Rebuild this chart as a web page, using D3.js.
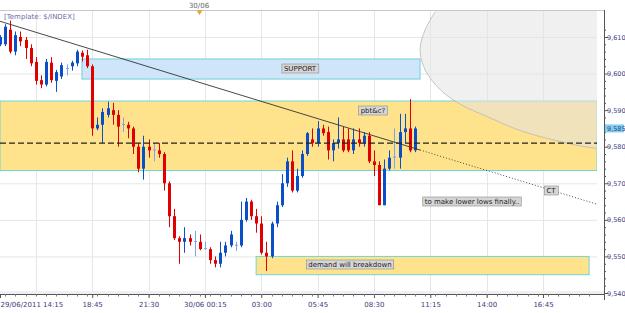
<!DOCTYPE html>
<html>
<head>
<meta charset="utf-8">
<script src="https://cdn.jsdelivr.net/npm/d3@7/dist/d3.min.js"></script>
<style>
  body { margin: 0; background: #fff; }
  text { font-family: "DejaVu Sans", sans-serif; }
</style>
</head>
<body>
<div id="chart-area"></div>
<script>
// 15 minute bars, $INDEX, from 29/06/2011 14:15
var firstBar = new Date(2011, 5, 29, 14, 15);
var open  = [9608,9608,9612,9606,9610,9609.2,9607,9603.2,9598.2,9597,9603,9598,9599.2,9601.3,9602,9602.8,9605.7,9605,9602,9585,
             9586,9588.7,9590,9588.7,9586,9586,9585,9580,9574,9580,9579,9579,9578,9570,9561,9555,9554,9555,9554,9554,
             9552,9552,9549,9548,9551,9553,9553,9553,9560,9565,9561,9559,9551,9550,9559,9564,9570,9576,9568,9572,
             9578,9582,9581,9585,9584,9579,9581,9582,9582,9579,9582,9581,9583,9576,9575,9564,9574,9577,9577,9584,
             9585,9579];
var high  = [9610.5,9613.5,9614.5,9611.5,9611.5,9610,9608,9604.5,9599.5,9604,9604.5,9601,9603,9602.5,9603.5,9606.5,9606.3,9606.5,9602.5,9588,
             9590.5,9592.3,9592,9590,9588,9586.8,9585.5,9581,9583,9582,9581,9581,9578.5,9570.5,9563,9555.5,9558,9556,9557,9556,
             9554,9552.5,9550,9554,9554,9557,9554,9565,9566,9565.5,9563,9561,9554,9559.5,9565,9572.5,9577,9579,9574,9579,
             9584,9585,9587,9586,9585.5,9582,9588,9585.5,9585,9585,9585,9584,9584,9579,9576,9576.5,9579,9585,9589,9589,
             9593,9585.5];
var low   = [9607.5,9607.5,9605.5,9605,9607.5,9604,9602,9597,9596,9596.5,9597.5,9595,9598.5,9599.5,9600.8,9602,9603.3,9601.5,9583,9584.5,
             9581,9588,9586,9580,9584,9582.3,9578,9573,9571,9577,9576,9577,9568,9558,9554.5,9548,9551,9553,9550,9551.7,
             9551.8,9548,9547,9547,9550,9552.5,9551.5,9552.5,9559.5,9560,9556.5,9550.5,9546,9549.5,9558,9563.5,9569,9567.5,9567.5,9571.5,
             9577.5,9580,9580,9583,9576.5,9576,9579.5,9578.5,9578.5,9578,9580,9580,9575.5,9572,9564,9564,9573.5,9574,9574,9581,
             9578.5,9578.5];
var close = [9610,9612.8,9606,9610.5,9608.8,9607,9602.8,9598,9597,9603.2,9598.2,9600.4,9602.3,9601.5,9603,9606,9604.6,9602,9585,9586,
             9589.5,9590.5,9588.7,9585.5,9586.2,9585,9580,9574,9580,9579,9579.2,9578,9570,9561,9555,9554,9555,9554,9554.2,9552,
             9552.3,9549,9548,9551,9553,9556,9553.2,9560,9565,9561,9559,9551,9550,9559,9564,9570,9576,9568,9572,9578,
             9583.7,9581,9585,9583.7,9579,9581,9582,9579,9579,9582,9581,9583,9576,9575,9564,9574,9577,9577.3,9584,9585,
             9579,9585];

var priceTicks = [9540, 9550, 9560, 9570, 9580, 9590, 9600, 9610];
var lastPrice = 9585;
var timeTicks = ["29/06/2011 14:15", "18:45", "21:30", "30/06 00:15", "03:00", "05:45", "08:30", "11:15", "14:00", "16:45"];
var tickTimes = [new Date(2011,5,29,14,15), new Date(2011,5,29,18,45), new Date(2011,5,29,21,30), new Date(2011,5,30,0,15),
                 new Date(2011,5,30,3,0), new Date(2011,5,30,5,45), new Date(2011,5,30,8,30), new Date(2011,5,30,11,15),
                 new Date(2011,5,30,14,0), new Date(2011,5,30,16,45)];
var gridTimes = [new Date(2011,5,29,16,0)].concat(tickTimes.slice(1));

// zones drawn on the chart (price levels)
var supportZone = [9598.5, 9604];
var yellowZone = [9573.5, 9592.5];
var demandZone = [9545, 9550];
var dashedLevel = 9581;

// outline of the curved object at top right (time, price)
var arcTimes = [new Date(2011,5,30,11,30), new Date(2011,5,30,11,0), new Date(2011,5,30,10,45), new Date(2011,5,30,11,0),
                new Date(2011,5,30,11,45), new Date(2011,5,30,12,45), new Date(2011,5,30,14,0), new Date(2011,5,30,15,45),
                new Date(2011,5,30,18,30), new Date(2011,5,30,19,30)];
var arcPrices = [9617, 9612, 9606.5, 9601, 9595.5, 9591.5, 9588.3, 9584.2, 9580.3, 9579.5];

var bars = open.map(function(d, i) {
    return {t: d3.timeMinute.offset(firstBar, 15 * i), o: d, h: high[i], l: low[i], c: close[i]};
});

var W = 625, H = 313, plotL = 0, plotR = 597, plotT = 10, plotB = 294;

var svg = d3.select("#chart-area").append("svg")
    .attr("width", W)
    .attr("height", H);

var x = d3.scaleTime()
    .domain([new Date(2011,5,29,14,15), new Date(2011,5,30,16,45)])
    .range([0, 543]);

var y = d3.scaleLinear()
    .domain([9540, 9610])
    .range([293, 37]);

svg.append("clipPath").attr("id", "plot")
    .append("rect").attr("x", plotL).attr("y", plotT).attr("width", plotR - plotL).attr("height", plotB - plotT);

var g = svg.append("g").attr("clip-path", "url(#plot)");

// grid
g.selectAll(".hgrid").data(priceTicks).enter().append("line")
    .attr("x1", plotL).attr("x2", plotR)
    .attr("y1", d => y(d) + 0.5).attr("y2", d => y(d) + 0.5)
    .attr("stroke", "#e6e6e6");
g.selectAll(".vgrid").data(gridTimes.concat([new Date(2011,5,30,19,30)])).enter().append("line")
    .attr("x1", d => Math.round(x(d)) + 0.5).attr("x2", d => Math.round(x(d)) + 0.5)
    .attr("y1", plotT).attr("y2", plotB)
    .attr("stroke", "#e6e6e6");

// yellow zone
g.append("rect")
    .attr("x", plotL).attr("width", plotR - plotL)
    .attr("y", y(yellowZone[1])).attr("height", y(yellowZone[0]) - y(yellowZone[1]))
    .attr("fill", "#fee38c").attr("stroke", "#6fd6d6");

// curved object at top right
var arcPts = arcTimes.map((t, i) => [x(t), y(arcPrices[i])]);
var arcLine = d3.line().curve(d3.curveCatmullRom);
var fillPts = arcPts.concat([[700, arcPts[arcPts.length - 1][1]], [700, -10], [arcPts[0][0], -10]]);
g.append("path")
    .attr("d", arcLine(arcPts) + "L" + fillPts.slice(arcPts.length).map(p => p.join(",")).join("L") + "Z")
    .attr("fill", "#e4e4e4").attr("fill-opacity", 0.55);
g.append("path")
    .attr("d", arcLine(arcPts))
    .attr("fill", "none").attr("stroke", "#b8b8b8").attr("stroke-width", 0.8);

// support box
g.append("rect")
    .attr("x", x(new Date(2011,5,29,18,15))).attr("width", x(new Date(2011,5,30,10,45)) - x(new Date(2011,5,29,18,15)))
    .attr("y", y(supportZone[1])).attr("height", y(supportZone[0]) - y(supportZone[1]))
    .attr("fill", "#cfe6fa").attr("stroke", "#6fd0d6");

// demand box
g.append("rect")
    .attr("x", x(new Date(2011,5,30,2,45))).attr("width", x(new Date(2011,5,30,19,0)) - x(new Date(2011,5,30,2,45)))
    .attr("y", y(demandZone[1])).attr("height", y(demandZone[0]) - y(demandZone[1]))
    .attr("fill", "#fee38c").attr("stroke", "#6fd6d6");

// candles
var up = "#0b4fc8", down = "#e00000";
function barColor(d) {
    if (Math.abs(d.c - d.o) < 0.6) return d.c >= d.o ? "#7ea6e6" : "#f09a8a";
    return d.c >= d.o ? up : down;
}
var candles = g.selectAll(".candle").data(bars).enter().append("g");
candles.append("line")
    .attr("x1", d => Math.round(x(d.t)) + 0.5).attr("x2", d => Math.round(x(d.t)) + 0.5)
    .attr("y1", d => y(d.h)).attr("y2", d => y(d.l))
    .attr("stroke", barColor);
candles.append("rect")
    .attr("x", d => Math.round(x(d.t)) - 1)
    .attr("width", 3)
    .attr("y", d => y(Math.max(d.o, d.c)))
    .attr("height", d => Math.max(1, Math.abs(y(d.o) - y(d.c))))
    .attr("fill", barColor);

// dashed level
g.append("line")
    .attr("x1", plotL).attr("x2", plotR)
    .attr("y1", y(dashedLevel)).attr("y2", y(dashedLevel))
    .attr("stroke", "#222").attr("stroke-width", 1.2).attr("stroke-dasharray", "6,3");

// trend line: solid part, then dotted extension
var tl0 = {t: new Date(2011,5,29,14,15), p: 9614.3};
var tl1 = {t: new Date(2011,5,30,10,45), p: 9579.1};
var slope = (tl1.p - tl0.p) / (x(tl1.t) - x(tl0.t));
g.append("line")
    .attr("x1", x(tl0.t)).attr("y1", y(tl0.p))
    .attr("x2", x(tl1.t)).attr("y2", y(tl1.p))
    .attr("stroke", "#333").attr("stroke-width", 0.9);
g.append("line")
    .attr("x1", x(tl1.t)).attr("y1", y(tl1.p))
    .attr("x2", plotR).attr("y2", y(tl1.p + slope * (plotR - x(tl1.t))))
    .attr("stroke", "#333").attr("stroke-width", 0.9).attr("stroke-dasharray", "1,2");

// text labels
function label(txt, cx, cy) {
    var t = svg.append("text").attr("x", cx).attr("y", cy + 2.5)
        .attr("text-anchor", "middle").attr("font-size", 7).attr("fill", "#222").text(txt);
    var b = t.node().getBBox();
    svg.insert("rect", function() { return t.node(); })
        .attr("x", b.x - 2).attr("y", b.y - 0.5).attr("width", b.width + 4).attr("height", b.height + 1)
        .attr("fill", "#d6d6d6").attr("stroke", "#8a8a8a").attr("stroke-width", 0.6);
}
label("SUPPORT", 300, 68);
label("pbt&c?", 373, 110);
label("demand will breakdown", 350, 264);
label("to make lower lows finally..", 472, 201);
label("CT", 551, 190);

svg.append("text").attr("x", 4).attr("y", 19).attr("font-size", 7).attr("fill", "#6c6ca8")
    .text("[Template: $/INDEX]");

// top ruler with period separator
svg.append("line").attr("x1", 0).attr("x2", 605).attr("y1", 10.5).attr("y2", 10.5).attr("stroke", "#c8c8c8");
svg.append("text").attr("x", 199).attr("y", 8).attr("text-anchor", "middle").attr("font-size", 7).attr("fill", "#666").text("30/06");
svg.append("path").attr("d", d3.symbol(d3.symbolTriangle, 14)).attr("transform", "translate(199.5,12) rotate(180)").attr("fill", "#f0a030");

// right axis
var yAxis = d3.axisRight(y)
    .tickValues(d3.range(9540, 9613, 2))
    .tickSize(3)
    .tickFormat(d => priceTicks.indexOf(d) >= 0 ? d3.format(",")(d) : "");
var ya = svg.append("g").attr("transform", "translate(604,0)").call(yAxis);
ya.select(".domain").attr("d", "M0.5," + plotT + "V300").attr("stroke", "#555");
ya.selectAll(".tick line").attr("stroke", "#555").attr("x2", d => priceTicks.indexOf(d) >= 0 ? 4 : 2);
ya.selectAll(".tick text").attr("x", 3).attr("font-size", 6.5).attr("font-family", "Liberation Sans, Arial, sans-serif").attr("fill", "#3c3c80");

// last price marker
var lp = ya.append("g").attr("transform", "translate(0," + y(lastPrice) + ")");
lp.append("rect").attr("x", 1).attr("y", -4).attr("width", 19).attr("height", 8).attr("fill", "#7fd0f2");
lp.append("text").attr("x", 3).attr("y", 2.3).attr("font-size", 6.5).attr("font-family", "Liberation Sans, Arial, sans-serif")
    .attr("fill", "#3c3c80").text(d3.format(",")(lastPrice));

// bottom axis
var xAxis = d3.axisBottom(x)
    .tickValues(tickTimes)
    .tickSize(4)
    .tickFormat((d, i) => timeTicks[i]);
var xa = svg.append("g").attr("transform", "translate(0," + plotB + ")").call(xAxis);
xa.select(".domain").attr("d", "M0,0.5H605").attr("stroke", "#555");
xa.selectAll(".tick line").attr("stroke", "#555");
xa.selectAll(".tick text").attr("font-size", 7).attr("fill", "#3c3c80").attr("y", 8);
xa.selectAll(".tick text").filter((d, i) => i == 0).attr("text-anchor", "start").attr("x", 0);
// minor ticks each 30 minutes
svg.append("g").selectAll("line").data(d3.timeMinute.every(30).range(new Date(2011,5,29,14,15), new Date(2011,5,30,19,30)))
    .enter().append("line")
    .attr("x1", d => Math.round(x(d)) + 0.5).attr("x2", d => Math.round(x(d)) + 0.5)
    .attr("y1", plotB).attr("y2", plotB + 2.5).attr("stroke", "#777");
svg.append("rect").attr("x", 0).attr("y", plotB - 3).attr("width", 604).attr("height", 3).attr("fill", "#eef0f4");
</script>
</body>
</html>
